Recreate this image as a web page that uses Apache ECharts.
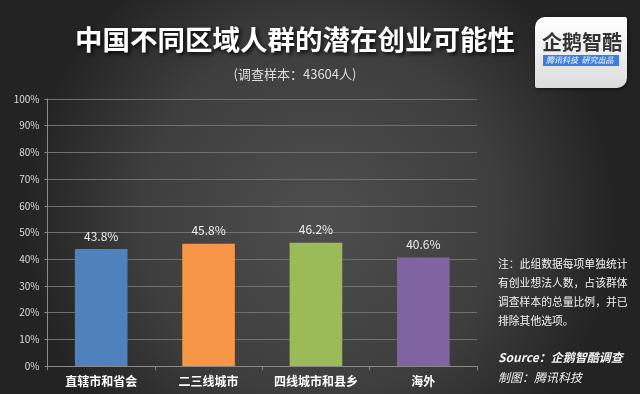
<!DOCTYPE html>
<html><head><meta charset="utf-8">
<script src="https://cdn.jsdelivr.net/npm/echarts@6/dist/echarts.min.js"></script>
<style>html,body{margin:0;padding:0;background:#333}#c{width:640px;height:394px}</style>
</head><body><div id="c"></div>
<script>
const categories = ['直辖市和省会', '二三线城市', '四线城市和县乡', '海外'];
const values = [43.8, 45.8, 46.2, 40.6];
const barColors = ['#4F81BD', '#F79646', '#9BBB59', '#8064A2'];
const titleText = '中国不同区域人群的潜在创业可能性';
const subtitleText = '(调查样本：43604人)';
const noteLines = ['注：此组数据每项单独统计', '有创业想法人数，占该群体', '调查样本的总量比例，并已', '排除其他选项。'];
const sourceText = 'Source：企鹅智酷调查';
const makerText = '制图：腾讯科技';

const font = '"Noto Sans CJK SC", "Microsoft YaHei", sans-serif';
const chart = echarts.init(document.getElementById('c'), null, {renderer: 'canvas'});
const noteGraphics = noteLines.map((t, i) => ({
  type: 'text', left: 498, top: 259 + i * 19,
  style: {text: t, fill: '#f2f2f2', font: '10.8px ' + font}
}));
chart.setOption({
  backgroundColor: {
    type: 'radial', x: 0.5, y: 0.55, r: 0.75,
    colorStops: [{offset: 0, color: '#4e4e4e'}, {offset: 0.6, color: '#3e3e3e'}, {offset: 1, color: '#232323'}]
  },
  title: [{
    text: titleText, left: 290, top: 21, textAlign: 'center',
    textStyle: {color: '#ffffff', fontSize: 27.5, fontWeight: 'bold', fontFamily: font,
      textShadowColor: 'rgba(0,0,0,0.9)', textShadowBlur: 4, textShadowOffsetX: 2, textShadowOffsetY: 2}
  }, {
    text: subtitleText, left: 290, top: 63, textAlign: 'center',
    textStyle: {color: '#dddddd', fontSize: 13, fontWeight: 'normal', fontFamily: font}
  }],
  grid: {left: 47.5, right: 163, top: 99, bottom: 28, containLabel: false},
  xAxis: {
    type: 'category', data: categories,
    axisLine: {lineStyle: {color: '#8a8a8a'}},
    axisTick: {show: true, alignWithLabel: false, length: 4, lineStyle: {color: '#8a8a8a'}},
    axisLabel: {interval: 0, color: '#ffffff', fontSize: 12, fontWeight: 'bold', fontFamily: font, margin: 9}
  },
  yAxis: {
    type: 'value', min: 0, max: 100, interval: 10,
    axisLine: {show: true, lineStyle: {color: '#8a8a8a'}},
    axisTick: {show: true, length: 3, lineStyle: {color: '#8a8a8a'}},
    axisLabel: {color: '#dddddd', fontSize: 10, fontFamily: font, margin: 8, formatter: '{value}%'},
    splitLine: {lineStyle: {color: '#707070', width: 1}}
  },
  series: [{
    type: 'bar', data: values, barWidth: '49%',
    itemStyle: {color: p => barColors[p.dataIndex]},
    label: {show: true, position: 'top', distance: 7, color: '#eeeeee', fontSize: 12, fontFamily: font,
      formatter: p => p.value.toFixed(1) + '%'}
  }],
  graphic: [
    {type: 'rect', shape: {x: 535, y: 17, width: 92, height: 71, r: [10, 2, 10, 2]},
      style: {fill: {type: 'linear', x: 0, y: 0, x2: 0, y2: 1, colorStops: [{offset: 0, color: '#ffffff'}, {offset: 1, color: '#dcdcdc'}]},
        shadowColor: 'rgba(0,0,0,0.6)', shadowBlur: 4, shadowOffsetX: 1, shadowOffsetY: 1}},
    {type: 'text', left: 542, top: 32, style: {text: '企鹅智酷', fill: '#333333', font: 'bold 20px ' + font}},
    {type: 'rect', shape: {x: 543, y: 55, width: 76, height: 11}, style: {fill: '#3d7fe0'}},
    {type: 'text', left: 546, top: 55.5, style: {text: '腾讯科技  研究出品', fill: '#ffffff', font: 'italic 8px ' + font}},
    ...noteGraphics,
    {type: 'text', left: 498, top: 351, style: {text: sourceText, fill: '#f2f2f2', font: 'italic bold 12px ' + font}},
    {type: 'text', left: 498, top: 371, style: {text: makerText, fill: '#eeeeee', font: 'italic 12px ' + font}}
  ]
});
</script></body></html>
